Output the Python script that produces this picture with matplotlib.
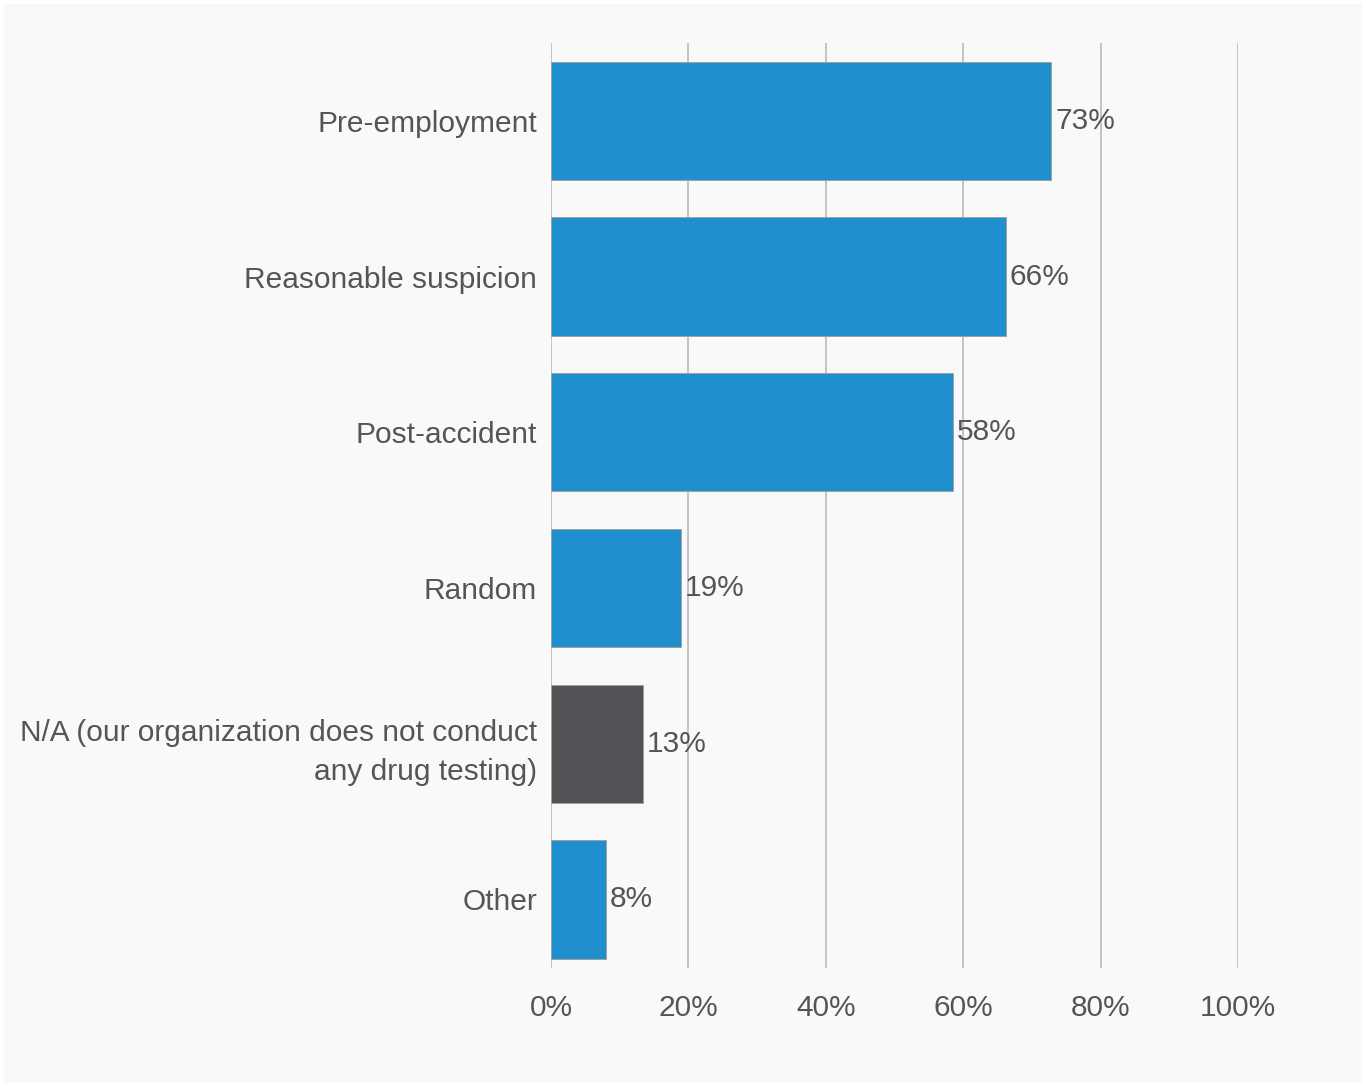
import matplotlib.pyplot as plt
from matplotlib.patches import Rectangle

categories = ["Pre-employment", "Reasonable suspicion", "Post-accident", "Random",
              "N/A (our organization does not conduct\nany drug testing)", "Other"]
values = [72.8, 66.2, 58.5, 18.9, 13.4, 8.0]
labels = ["73%", "66%", "58%", "19%", "13%", "8%"]
colors = ["#1f8fce", "#1f8fce", "#1f8fce", "#1f8fce", "#525356", "#1f8fce"]
xticks = [0, 20, 40, 60, 80, 100]

plt.rcParams['font.family'] = ['Liberation Sans', 'DejaVu Sans']
txt = "#555555"

fig = plt.figure(figsize=(13.66, 10.87), dpi=100)
fig.patch.set_facecolor("white")
fig.patches.append(Rectangle((4 / 1366, 4 / 1087), 1 - 8 / 1366, 1 - 8 / 1087,
                             transform=fig.transFigure, facecolor="#f9f9f9",
                             edgecolor="none", zorder=-10))

ax = fig.add_axes([551 / 1366, 1 - 968 / 1087, 687 / 1366, 925 / 1087])
ax.set_facecolor("none")

y = list(range(len(categories)))
ax.barh(y, values, height=0.76, color=colors, edgecolor="#a0a0a0", linewidth=0.7, zorder=3)
for yi, v, lab in zip(y, values, labels):
    ax.text(v + 0.6, yi + 0.0, lab, va="center", ha="left", fontsize=21.5, color=txt, zorder=4)

ax.set_xlim(0, 100)
ax.set_ylim(5.44, -0.5)
ax.set_xticks(xticks)
ax.set_xticklabels([f"{t}%" for t in xticks])
ax.set_yticks(y)
ax.set_yticklabels(categories, linespacing=1.5)
ax.tick_params(axis="both", length=0, labelsize=21.5, labelcolor=txt)
ax.tick_params(axis="y", pad=10)
ax.tick_params(axis="x", pad=19)
ax.xaxis.grid(True, color="#c4c4c4", linewidth=1.4, zorder=0)
ax.set_axisbelow(True)
for s in ax.spines.values():
    s.set_visible(False)

fig.savefig("out.png", dpi=100, facecolor=fig.get_facecolor())
